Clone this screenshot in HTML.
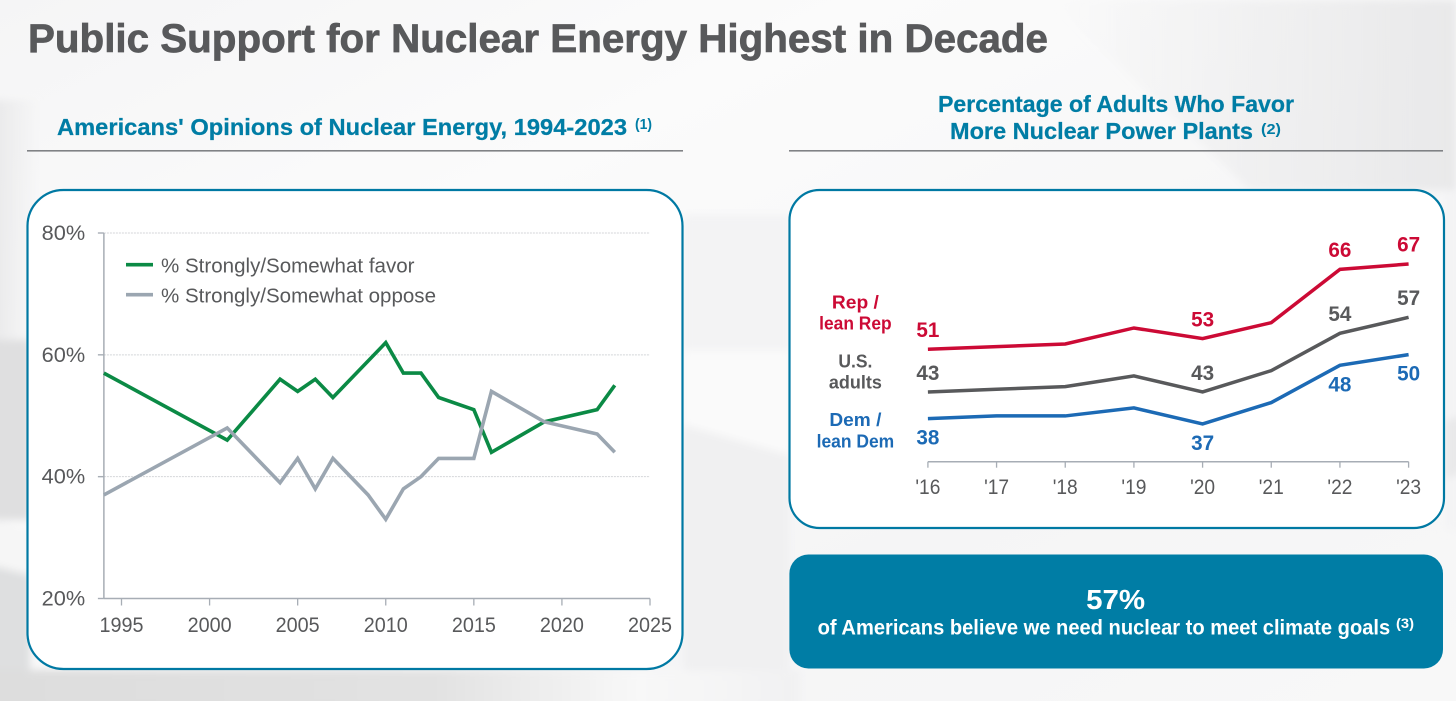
<!DOCTYPE html>
<html lang="en">
<head>
<meta charset="utf-8">
<title>Public Support for Nuclear Energy Highest in Decade</title>
<style>
html,body{margin:0;padding:0;width:1456px;height:701px;overflow:hidden;background:#f6f6f7}
svg{display:block}
text{font-family:"Liberation Sans",sans-serif}
.b{font-weight:700}
</style>
</head>
<body>
<svg id="root" width="1456" height="701" viewBox="0 0 1456 701" xmlns="http://www.w3.org/2000/svg">
  <defs>
    <linearGradient id="bgGrad" x1="0" y1="0" x2="1" y2="1">
      <stop offset="0" stop-color="#f5f5f6"/>
      <stop offset="0.3" stop-color="#fbfbfb"/>
      <stop offset="0.7" stop-color="#f5f5f6"/>
      <stop offset="1" stop-color="#f8f8f8"/>
    </linearGradient>
    <linearGradient id="topRight" x1="0" y1="0" x2="1" y2="0">
      <stop offset="0" stop-color="#e9e9ea" stop-opacity="0"/>
      <stop offset="1" stop-color="#e9e9ea" stop-opacity="1"/>
    </linearGradient>
    <linearGradient id="leftEdge" x1="0" y1="0" x2="1" y2="0">
      <stop offset="0" stop-color="#e8e8e9" stop-opacity="1"/>
      <stop offset="1" stop-color="#e8e8e9" stop-opacity="0"/>
    </linearGradient>
    <linearGradient id="bottomFade" x1="0" y1="0" x2="1" y2="0">
      <stop offset="0" stop-color="#dddddd"/>
      <stop offset="0.55" stop-color="#e2e2e2"/>
      <stop offset="0.8" stop-color="#f8f8f8"/>
      <stop offset="1" stop-color="#f1f1f2"/>
    </linearGradient>
    <filter id="soft" x="-5%" y="-5%" width="110%" height="110%"><feGaussianBlur stdDeviation="4"/></filter>
    <filter id="softWide" x="-30%" y="-30%" width="160%" height="160%"><feGaussianBlur stdDeviation="18"/></filter>
  </defs>

  <rect width="1456" height="701" fill="url(#bgGrad)"/>
  <g filter="url(#soft)">
    <polygon points="1050,0 1456,0 1456,190 1250,190" fill="url(#topRight)"/>
    <rect x="-10" y="100" width="50" height="240" fill="url(#leftEdge)"/>
    <rect x="-10" y="340" width="40" height="180" fill="#dfdfe0"/>
    <polygon points="-10,517 30,530 30,575 -10,565" fill="#f6f6f6"/>
    <polygon points="-10,565 30,575 30,675 -10,675" fill="#dedfe0"/>
    <rect x="-10" y="670" width="810" height="40" fill="url(#bottomFade)"/>
    <rect x="684" y="215" width="105" height="135" fill="#f3f3f4"/>
    <polygon points="684,425 789,455 789,670 684,670" fill="#f0f0f1"/>
    <polygon points="684,350 789,350 789,455 684,425" fill="#fafafa"/>
    <rect x="1445" y="190" width="20" height="340" fill="#f4f4f5"/>
    <polygon points="1445,420 1465,416 1465,470 1445,480" fill="#e9e9ea"/>
  </g>

  <text class="b" x="28" y="52" font-size="40" fill="#58595b" stroke="#58595b" stroke-width="0.7" textLength="1020" lengthAdjust="spacingAndGlyphs">Public Support for Nuclear Energy Highest in Decade</text>

  <g>
    <text class="b" x="57" y="135" font-size="23.5" fill="#007da5" stroke="#007da5" stroke-width="0.25" textLength="570" lengthAdjust="spacingAndGlyphs">Americans' Opinions of Nuclear Energy, 1994-2023</text>
    <text class="b" x="635" y="129" font-size="15" fill="#007da5" textLength="17" lengthAdjust="spacingAndGlyphs">(1)</text>
    <rect x="27" y="150" width="656" height="1.6" fill="#808285"/>
  </g>

  <g>
    <text class="b" x="938" y="112" font-size="23" fill="#007da5" stroke="#007da5" stroke-width="0.25" textLength="356" lengthAdjust="spacingAndGlyphs">Percentage of Adults Who Favor</text>
    <text class="b" x="950" y="139" font-size="23" fill="#007da5" stroke="#007da5" stroke-width="0.25" textLength="303" lengthAdjust="spacingAndGlyphs">More Nuclear Power Plants</text>
    <text class="b" x="1261" y="134" font-size="15" fill="#007da5" textLength="20" lengthAdjust="spacingAndGlyphs">(2)</text>
    <rect x="789" y="150" width="654" height="1.6" fill="#808285"/>
  </g>

  <rect x="27.5" y="190" width="655" height="479" rx="36" ry="36" fill="#ffffff" stroke="#0079a3" stroke-width="2.2"/>
  <rect x="789.5" y="190" width="654.5" height="338" rx="30" ry="30" fill="#ffffff" stroke="#0079a3" stroke-width="2.2"/>

  <g id="leftChart">
    <g>
      <g>
        <line x1="126" x2="153" y1="264.7" y2="264.7" stroke="#0b8a45" stroke-width="3.6"/>
        <text x="161" y="272.3" font-size="20.5" fill="#58595b" textLength="253.5" lengthAdjust="spacingAndGlyphs">% Strongly/Somewhat favor</text>
      </g>
      <g>
        <line x1="126" x2="153" y1="294.7" y2="294.7" stroke="#9ba6b1" stroke-width="3.6"/>
        <text x="161" y="302.7" font-size="20.5" fill="#58595b" textLength="275" lengthAdjust="spacingAndGlyphs">% Strongly/Somewhat oppose</text>
      </g>
    </g>
  </g>

  <g id="rightChart">
    <text class="b" x="855.4" y="308.3" font-size="18.5" fill="#cc0a35" text-anchor="middle" textLength="47" lengthAdjust="spacingAndGlyphs">Rep /</text>
    <text class="b" x="855.4" y="329.3" font-size="18.5" fill="#cc0a35" text-anchor="middle" textLength="72.5" lengthAdjust="spacingAndGlyphs">lean Rep</text>
    <text class="b" x="855.4" y="367.3" font-size="18.5" fill="#58595b" text-anchor="middle" textLength="34" lengthAdjust="spacingAndGlyphs">U.S.</text>
    <text class="b" x="855.4" y="388.3" font-size="18.5" fill="#58595b" text-anchor="middle" textLength="53" lengthAdjust="spacingAndGlyphs">adults</text>
    <text class="b" x="855.4" y="426" font-size="18.5" fill="#1c6ab5" text-anchor="middle" textLength="52" lengthAdjust="spacingAndGlyphs">Dem /</text>
    <text class="b" x="855.4" y="447.3" font-size="18.5" fill="#1c6ab5" text-anchor="middle" textLength="77.6" lengthAdjust="spacingAndGlyphs">lean Dem</text>
  </g>

  <g>
    <rect x="789.4" y="554.5" width="653.6" height="114" rx="19" ry="19" fill="#007da5"/>
    <text class="b" x="1115.6" y="609" font-size="28" fill="#ffffff" text-anchor="middle" textLength="59" lengthAdjust="spacingAndGlyphs">57%</text>
    <text class="b" x="817.6" y="634.3" font-size="21.5" fill="#ffffff" textLength="572.6" lengthAdjust="spacingAndGlyphs">of Americans believe we need nuclear to meet climate goals</text>
    <text class="b" x="1396" y="628" font-size="14" fill="#ffffff" textLength="18" lengthAdjust="spacingAndGlyphs">(3)</text>
  </g>
</svg>

<script>
const favorYears = [1994, 2001, 2004, 2005, 2006, 2007, 2010, 2011, 2012, 2013, 2015, 2016, 2019, 2022, 2023];
const favorValues = [57, 46, 56, 54, 56, 53, 62, 57, 57, 53, 51, 44, 49, 51, 55];
const opposeYears = [1994, 2001, 2004, 2005, 2006, 2007, 2009, 2010, 2011, 2012, 2013, 2015, 2016, 2019, 2022, 2023];
const opposeValues = [37, 48, 39, 43, 38, 43, 37, 33, 38, 40, 43, 43, 54, 49, 47, 44];
const yearTicks = [1995, 2000, 2005, 2010, 2015, 2020, 2025];
const percentTicks = [20, 40, 60, 80];

const partyYears = ["'16", "'17", "'18", "'19", "'20", "'21", "'22", "'23"];
const repValues = [51, 51.5, 52, 55, 53, 56, 66, 67];
const usValues = [43, 43.5, 44, 46, 43, 47, 54, 57];
const demValues = [38, 38.5, 38.5, 40, 37, 41, 48, 50];
const labeledYears = ["'16", "'20", "'22", "'23"];

const NS = 'http://www.w3.org/2000/svg';
const leftChart = document.getElementById('leftChart');
const rightChart = document.getElementById('rightChart');

function make(parent, tag, props, content) {
  const el = document.createElementNS(NS, tag);
  for (const k in props) el.setAttribute(k, props[k]);
  if (content !== undefined) el.textContent = content;
  parent.appendChild(el);
  return el;
}

/* left chart axis functions */
function xLeft(year) { return 121.5 + (year - 1995) * (650 - 121.5) / 30; }
function yLeft(pct) { return 598.5 - (pct - 20) * (598.5 - 233) / 60; }
const leftXMin = xLeft(1994);
const leftXMax = xLeft(2025);

percentTicks.forEach(function (t) {
  if (t > 20) {
    const grid = make(leftChart, 'line', { x1: leftXMin, x2: leftXMax, y1: yLeft(t), y2: yLeft(t), stroke: '#d4d6d9', 'stroke-width': 1, 'stroke-dasharray': '2 1' });
    
    
  }
  const tick = make(leftChart, 'line', { x1: leftXMin - 6, x2: leftXMin, y1: yLeft(t), y2: yLeft(t), stroke: '#a7adb5', 'stroke-width': 1.4 });
  
  
  const label = make(leftChart, 'text', { x: 41.7, y: yLeft(t) + 7, 'font-size': 21, fill: '#58595b', textLength: 43.5, lengthAdjust: 'spacingAndGlyphs' }, t + '%');
  
  
});

const leftYAxis = make(leftChart, 'line', { x1: leftXMin, x2: leftXMin, y1: yLeft(80), y2: yLeft(20), stroke: '#a7adb5', 'stroke-width': 1.5 });


const leftXAxis = make(leftChart, 'line', { x1: leftXMin, x2: leftXMax, y1: yLeft(20), y2: yLeft(20), stroke: '#a7adb5', 'stroke-width': 1.5 });



yearTicks.forEach(function (t) {
  const tick = make(leftChart, 'line', { x1: xLeft(t), x2: xLeft(t), y1: yLeft(20), y2: yLeft(20) + 7, stroke: '#a7adb5', 'stroke-width': 1.3 });
  
  
  const label = make(leftChart, 'text', { x: xLeft(t), y: 632, 'font-size': 21, fill: '#58595b', 'text-anchor': 'middle', textLength: 44, lengthAdjust: 'spacingAndGlyphs' }, String(t));
  
  
});

function leftPoints(years, values) {
  return years.map(function (yr, i) { return xLeft(yr).toFixed(2) + ',' + yLeft(values[i]).toFixed(2); }).join(' ');
}
const favorLine = make(leftChart, 'polyline', { points: leftPoints(favorYears, favorValues), fill: 'none', stroke: '#0b8a45', 'stroke-width': 3.6, 'stroke-linejoin': 'miter' });


const opposeLine = make(leftChart, 'polyline', { points: leftPoints(opposeYears, opposeValues), fill: 'none', stroke: '#9ba6b1', 'stroke-width': 3.6, 'stroke-linejoin': 'miter' });



/* right chart axis functions */
function xRight(i) { return 927.9 + i * (1408.6 - 927.9) / (partyYears.length - 1); }
function yRight(v) { return 349.3 - (v - 51) * 5.33; }
const axisY = 461.7;

const rightAxis = make(rightChart, 'line', { x1: xRight(0), x2: xRight(partyYears.length - 1), y1: axisY, y2: axisY, stroke: '#a7adb5', 'stroke-width': 1.5 });



partyYears.forEach(function (label, i) {
  const tick = make(rightChart, 'line', { x1: xRight(i), x2: xRight(i), y1: axisY, y2: axisY + 6, stroke: '#a7adb5', 'stroke-width': 1.3 });
  
  
  const txt = make(rightChart, 'text', { x: xRight(i), y: 494, 'font-size': 21, fill: '#58595b', 'text-anchor': 'middle', textLength: 25, lengthAdjust: 'spacingAndGlyphs' }, label);
  
  
});

function drawParty(values, color, labelOffset, key) {
  const pts = values.map(function (v, i) { return xRight(i).toFixed(2) + ',' + yRight(v).toFixed(2); }).join(' ');
  const line = make(rightChart, 'polyline', { points: pts, fill: 'none', stroke: color, 'stroke-width': 3.5, 'stroke-linejoin': 'miter' });
  
  
  labeledYears.forEach(function (yr) {
    const i = partyYears.indexOf(yr);
    const txt = make(rightChart, 'text', { x: xRight(i), y: yRight(values[i]) + labelOffset, 'font-size': 21.5, 'font-weight': 700, fill: color, 'text-anchor': 'middle', textLength: 23, lengthAdjust: 'spacingAndGlyphs' }, String(values[i]));
    
    
  });
}
drawParty(repValues, '#cc0a35', -12.3, 'rep');
drawParty(usValues, '#58595b', -12.1, 'us-adults');
drawParty(demValues, '#1c6ab5', 26, 'dem');
</script>
</body>
</html>
